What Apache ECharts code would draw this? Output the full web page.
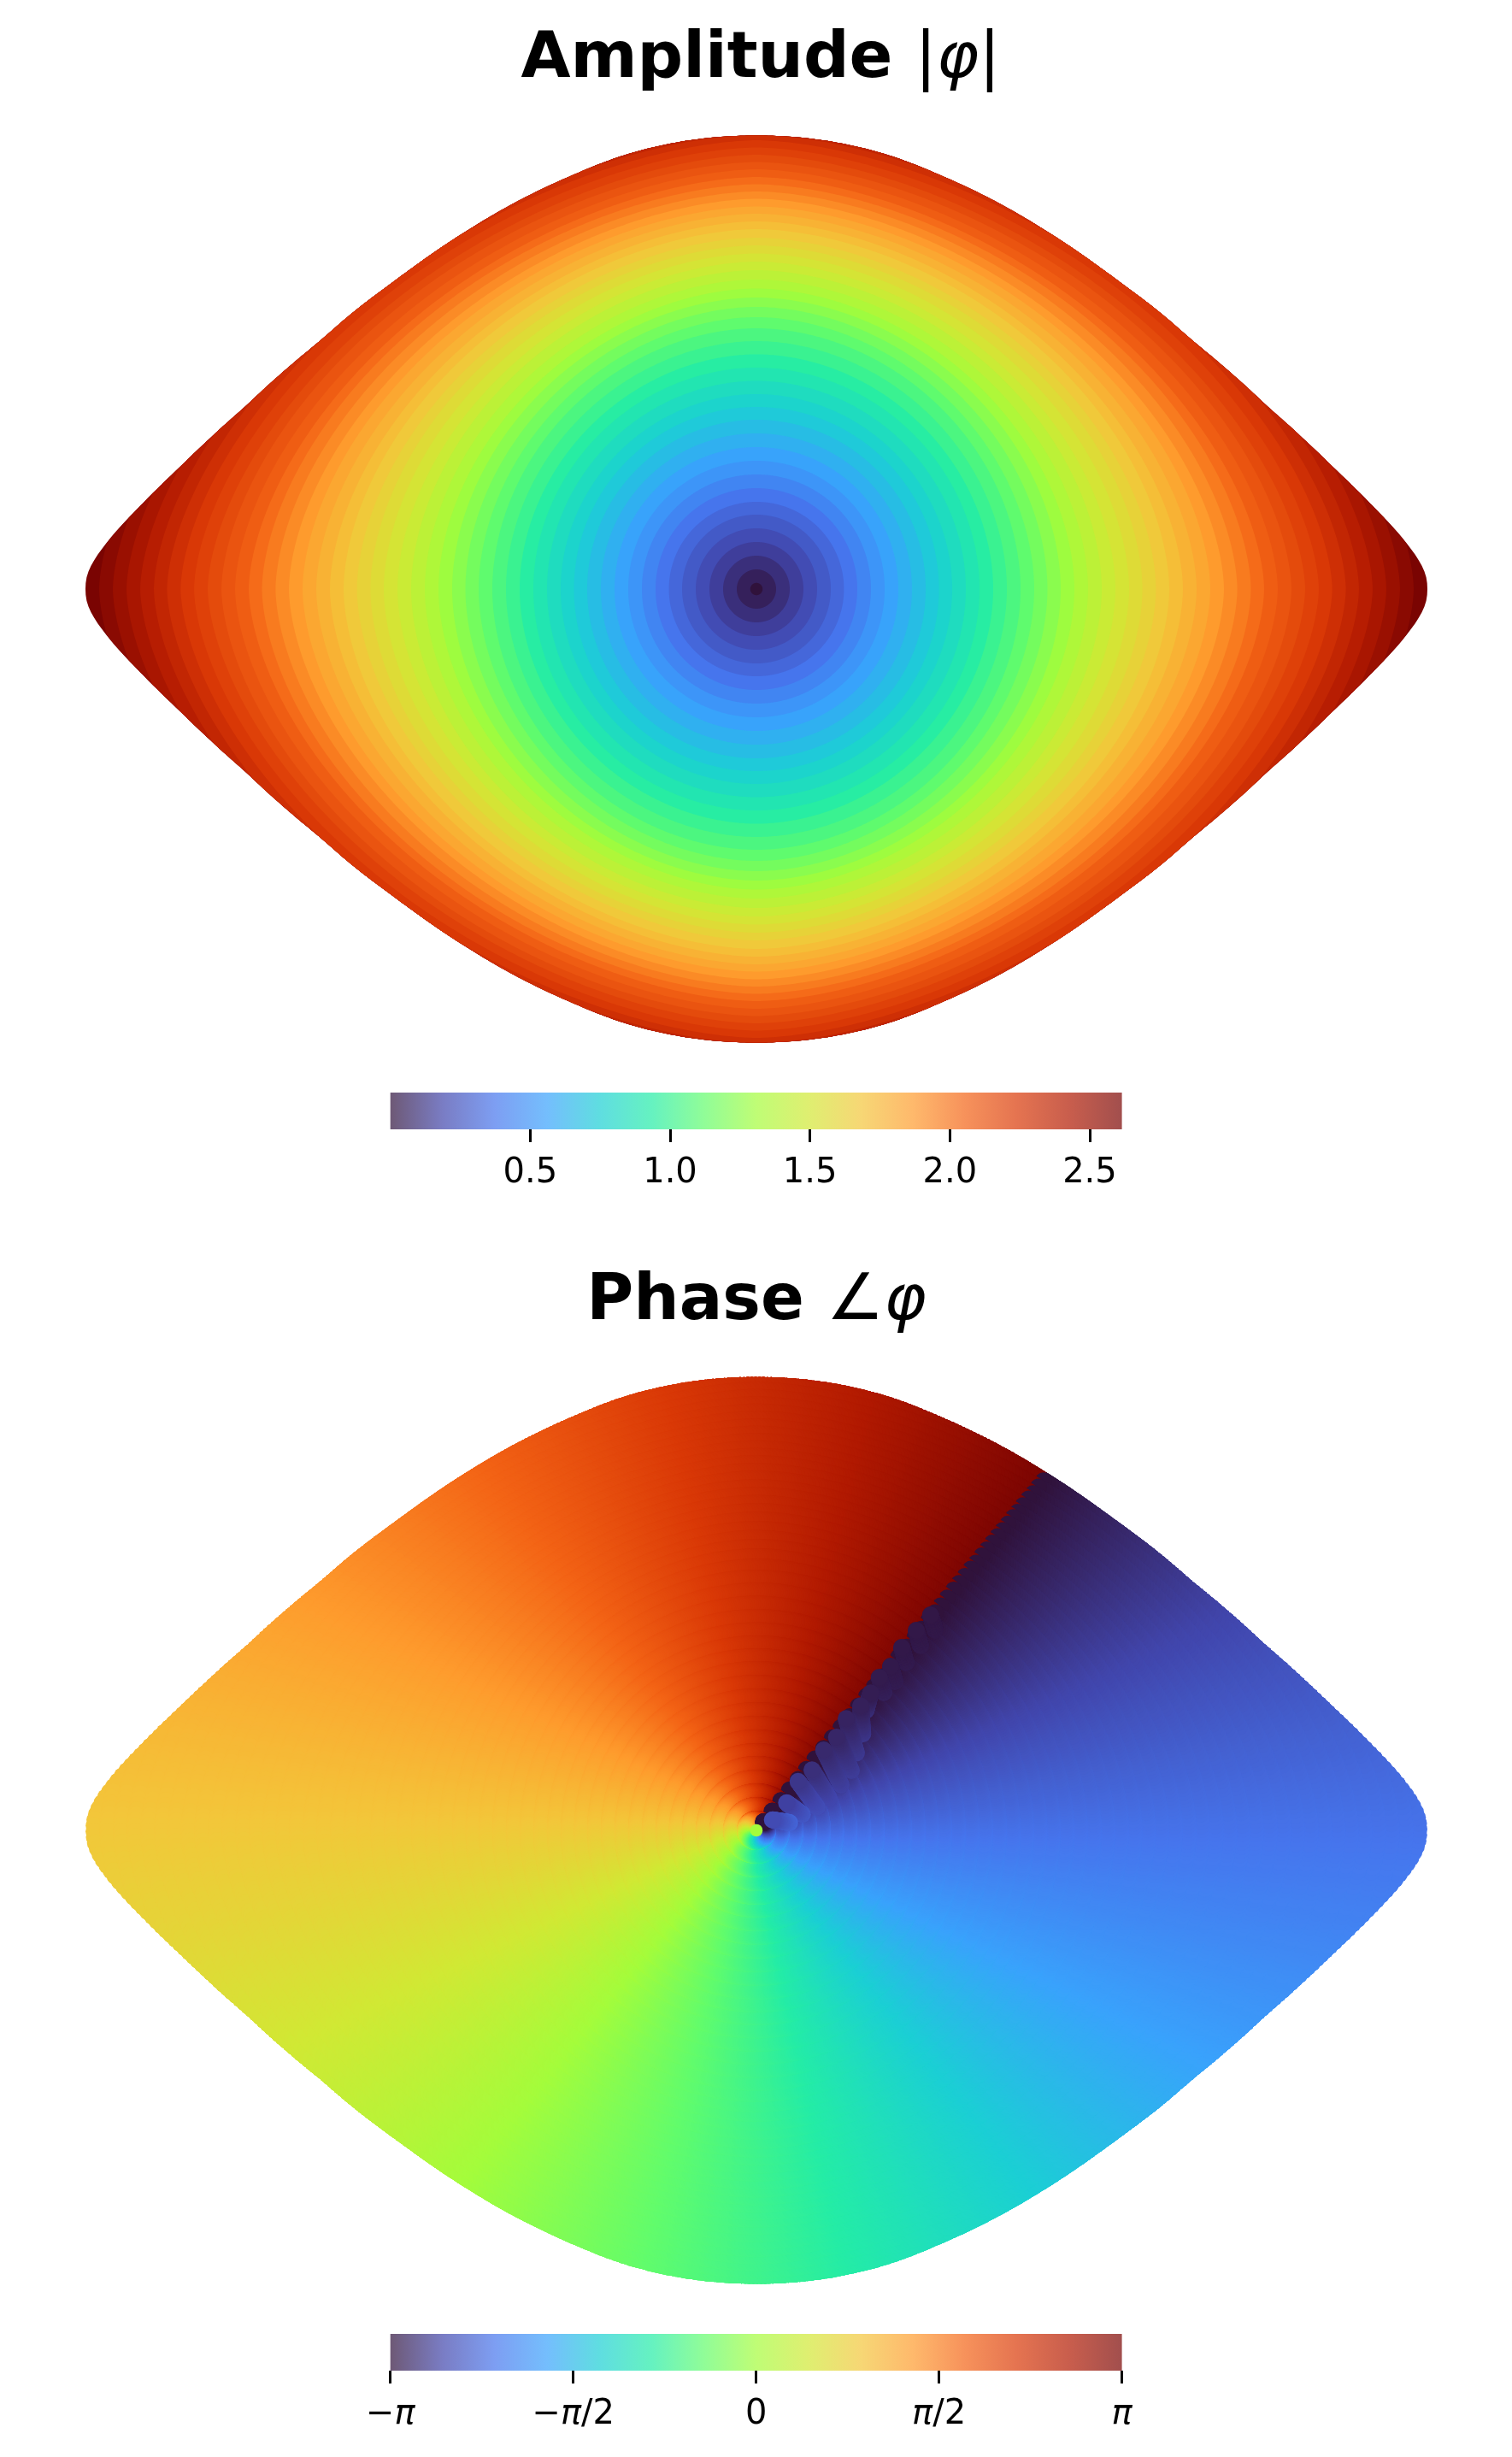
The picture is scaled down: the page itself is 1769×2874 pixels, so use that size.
<!DOCTYPE html>
<html>
<head>
<meta charset="utf-8">
<script src="https://cdn.jsdelivr.net/npm/echarts@6/dist/echarts.min.js"></script>
<style>html,body{margin:0;padding:0;background:#fff}#c{width:1769px;height:2874px}</style>
</head>
<body>
<div id="c"></div>
<script>
// ---- values ----
// turbo colour stops
const turboStops = ['#30123b','#4145ab','#4675ed','#39a2fc','#1bcfd4','#24eca6','#61fc6c','#a4fc3b','#d1e834','#f3c63a','#fe9b2d','#f36315','#d93806','#b11901','#7a0402'];
const ringAmp = [0,0.053,0.107,0.160,0.213,0.267,0.320,0.374,0.440,0.506,0.565,0.618,0.671,0.725,0.778,0.834,0.888,0.944,1.000,1.056,1.114,1.173,1.234,1.292,1.352,1.407,1.466,1.519,1.567,1.616,1.666,1.717,1.766,1.816,1.867,1.920,1.973,2.027,2.080,2.120,2.161,2.201,2.242,2.295,2.348,2.402,2.455,2.508,2.562,2.615];
// measured outer semi-axis of each ring along the horizontal
const ringSemiX = [7.2,23,39,55,71,87,102.4,118,134,150,166,182,198,213.5,229,245,261,277,293,309,325,340.5,356,372,388,404,420,436,451.6,467.4,483,499,515,531,547,562.6,578.5,594,610,626,642,658,673.7,689.6,705,721,737,753,769,785];
// measured outer semi-axis along the vertical (rings past 43 run off the outline)
const ringSemiY = [7.2,23,39,55,71,87,102,118,134,150,166,182,198,213,228,243.5,259,274.5,290,305,318,330,341,351.5,362,373,383,392.5,402,411,421,430,439,447.5,456.5,465,473.5,482,491,499.5,508,516.5,525,531.5,540,549,558,567,576,585];
// ring shape: y = semiY * (1 - |x/semiX|^ringPow)^ringBend (2 and .5 make a circle)
const ringPow = [2,2,2,2,2,2,2,2,2,2,2,2,2,1.99,1.97,1.96,1.95,1.93,1.92,1.91,1.89,1.88,1.87,1.85,1.84,1.83,1.81,1.8,1.79,1.78,1.77,1.76,1.75,1.74,1.73,1.73,1.72,1.71,1.7,1.7,1.69,1.69,1.68,1.68,1.68,1.68,1.68,1.68,1.68,1.68];
const ringBend = [.5,.5,.5,.5,.5,.5,.5,.5,.5,.5,.5,.5,.5,.5,.51,.51,.51,.52,.52,.52,.53,.53,.53,.54,.54,.54,.55,.55,.55,.56,.56,.57,.57,.57,.58,.58,.58,.59,.59,.59,.6,.6,.6,.6,.6,.6,.6,.6,.6,.6];
// outline of the lens, upper right quarter
const outlineDx = [785,783.3,777,765,745,725,691,665,630,590,523,487,420,353,287,220,153,87,0];
const outlineDy = [0,15,30,48,72,93,127,152,185,221,280,311,363,410,449.5,482,508,523.5,530.5];
// phase along rays, going clockwise from the cut
const rayDeg = [50.6,0,-45,-90,-135,-180,-225,-270,-309.4];
const rayPhase = [-3.1416,-2.258,-1.473,-0.688,0.097,0.883,1.668,2.453,3.1416];
// the dark lobes beside the cut: start and end of each lobe, with their phases
const lobeHeadX = [18.7,35.3,48.7,65,78.7,93.7,105,122,133.7,143.7,157,170,187,203.7];
const lobeHeadY = [12.3,32.3,57.3,70.7,94,109,130.7,145.7,160.7,179,192,214,234,252];
const lobeTailX = [38.8,53.7,70.8,84.8,98.9,111,117,124.3,128,149,162,175,192,209];
const lobeTailY = [9,18.7,27.3,37.8,53.3,70,90.6,112.7,140,161,174,196,216,234];
const lobeHeadPhase = [-2.639,-2.733,-2.827,-2.890,-2.941,-2.966,-2.991,-3.016,-3.047,-3.066,-3.079,-3.085,-3.091,-3.097];
const lobeTailPhase = [-2.388,-2.513,-2.607,-2.670,-2.733,-2.765,-2.796,-2.827,-2.890,-3.016,-3.047,-3.060,-3.072,-3.085];
// colour bar ticks
const ampTicks = [0.5,1.0,1.5,2.0,2.5];
const phaseTicks = [-Math.PI,-Math.PI/2,0,Math.PI/2,Math.PI];
const phaseTickLabels = ['\u2212{i|\u03c0}','\u2212{i|\u03c0}/2','0','{i|\u03c0}/2','{i|\u03c0}'];

// ---- geometry helpers ----
const RAD = Math.PI/180;
const markerR = 10, centreR = 7.3, raysPerRing = 720, lobeSteps = 24;
const olT = outlineDx.map((x,i)=>Math.atan2(outlineDy[i],x));
const olR = outlineDx.map((x,i)=>Math.hypot(x,outlineDy[i]));
const olM = olT.map((t,i)=>{
  if(i===0||i===olT.length-1) return 0;
  return (olR[i+1]-olR[i-1])/(olT[i+1]-olT[i-1]);
});
function outlineRadius(th){ // th any angle
  const c=Math.abs(Math.cos(th)), s=Math.abs(Math.sin(th));
  const t=Math.atan2(s,c);
  let i=0; while(i<olT.length-2 && t>olT[i+1]) i++;
  const h=olT[i+1]-olT[i], u=(t-olT[i])/h, u2=u*u, u3=u2*u;
  return (2*u3-3*u2+1)*olR[i]+(u3-2*u2+u)*h*olM[i]+(-2*u3+3*u2)*olR[i+1]+(u3-u2)*h*olM[i+1];
}
function ringRadius(k,th){
  const c=Math.abs(Math.cos(th)), s=Math.abs(Math.sin(th));
  const a=ringSemiX[k], b=ringSemiY[k], e=ringBend[k], p=ringPow[k];
  if(s<1e-6) return a;
  let lo=0, hi=Math.min(c>1e-6?a/c:b/s,b/s);
  for(let n=0;n<26;n++){
    const r=(lo+hi)/2, q=Math.max(0,1-Math.pow(r*c/a,p));
    if(r*s<b*Math.pow(q,e)) lo=r; else hi=r;
  }
  return (lo+hi)/2;
}
function phaseAt(deg){
  let i=0; while(i<rayDeg.length-2 && deg<rayDeg[i+1]) i++;
  return rayPhase[i]+(deg-rayDeg[i])/(rayDeg[i+1]-rayDeg[i])*(rayPhase[i+1]-rayPhase[i]);
}

// ---- amplitude rings, drawn rim first so inner rings cover outer ones ----
const ampRows = ringAmp.map((v,k)=>[k,v]).reverse();
const ringPts = ringAmp.map((v,k)=>{
  const p=[];
  for(let j=0;j<raysPerRing;j++){
    const th=j*2*Math.PI/raysPerRing;
    const r=Math.min(ringRadius(k,th),outlineRadius(th));
    p.push([r*Math.cos(th),r*Math.sin(th)]);
  }
  return p;
});

// ---- phase points: same rings, swept from the top of the range down to -pi ----
const phasePts = [];
for(let k=ringAmp.length-1;k>=1;k--){
  for(let j=raysPerRing-1;j>=0;j--){
    const deg=rayDeg[0]-j*360/raysPerRing, th=deg*RAD;
    const r=Math.max(0,Math.min(ringRadius(k,th),outlineRadius(th))-markerR);
    phasePts.push([r*Math.cos(th),r*Math.sin(th),phaseAt(deg)]);
  }
}
for(let m=lobeHeadX.length-1;m>=0;m--){
  for(let s=lobeSteps;s>=0;s--){
    const u=s/lobeSteps;
    phasePts.push([
      lobeHeadX[m]+u*(lobeTailX[m]-lobeHeadX[m]),
      lobeHeadY[m]+u*(lobeTailY[m]-lobeHeadY[m]),
      lobeHeadPhase[m]+u*(lobeTailPhase[m]-lobeHeadPhase[m])
    ]);
  }
}
phasePts.push([0,0,0]);
const centreIndex = phasePts.length-1;

const chart = echarts.init(document.getElementById('c'),null,{renderer:'canvas'});

function barGradient(alpha){
  return new echarts.graphic.LinearGradient(0,0,1,0,turboStops.map((c,i)=>({
    offset:i/(turboStops.length-1),
    color:echarts.color.modifyAlpha(c,alpha)
  })));
}
function barSeries(axisIdx,lo,hi){
  return {type:'custom',xAxisIndex:axisIdx,yAxisIndex:axisIdx,silent:true,clip:false,animation:false,
    data:[[lo,hi]],
    renderItem(params,api){
      const a=api.coord([api.value(0),0]), b=api.coord([api.value(1),1]);
      return {type:'rect',shape:{x:a[0],y:b[1],width:b[0]-a[0],height:a[1]-b[1]},style:{fill:barGradient(0.7)}};
    }};
}
const F='"DejaVu Sans"';
const titleRich={
  b:{fontFamily:F,fontWeight:'bold',fontSize:75,color:'#000'},
  m:{fontFamily:F,fontWeight:'normal',fontSize:75,color:'#000'},
  i:{fontFamily:F,fontStyle:'italic',fontWeight:'normal',fontSize:75,color:'#000'}
};
function hiddenAxis(i,lo,hi){return {gridIndex:i,type:'value',min:lo,max:hi,show:false};}
function barX(i,lo,hi,ticks,fmt){
  return {gridIndex:i,type:'value',min:lo,max:hi,position:'bottom',
    axisLine:{show:false},splitLine:{show:false},
    axisTick:{show:true,length:15,lineStyle:{color:'#000',width:3},customValues:ticks},
    axisLabel:{show:true,margin:32,color:'#000',fontFamily:F,fontSize:40,customValues:ticks,formatter:fmt,hideOverlap:false,
      rich:{i:{fontFamily:F,fontStyle:'italic',fontSize:40,color:'#000'}}}};
}

chart.setOption({
  animation:false,
  backgroundColor:'#fff',
  title:[
    {text:'{b|Amplitude} {m||}{i|\u03c6}{m||}',left:885,top:28,textAlign:'center',textStyle:{rich:titleRich,fontFamily:F,fontSize:75,fontWeight:'bold',color:'#000'}},
    {text:'{b|Phase} {m|\u2220}{i|\u03c6}',left:880,top:1481,textAlign:'center',textStyle:{rich:titleRich,fontFamily:F,fontSize:75,fontWeight:'bold',color:'#000'}}
  ],
  grid:[
    {left:85,top:139,width:1600,height:1100},
    {left:85,top:1591,width:1600,height:1100},
    {left:456.7,top:1278,width:855.9,height:43},
    {left:456.7,top:2730,width:855.9,height:43}
  ],
  xAxis:[
    hiddenAxis(0,-800,800),hiddenAxis(1,-800,800),
    barX(2,0,2.615,ampTicks,v=>v.toFixed(1)),
    barX(3,-Math.PI,Math.PI,phaseTicks,v=>phaseTickLabels[Math.round(v/(Math.PI/2))+2])
  ],
  yAxis:[
    hiddenAxis(0,-550,550),hiddenAxis(1,-550,550),
    hiddenAxis(2,0,1),hiddenAxis(3,0,1)
  ],
  visualMap:[
    {show:false,seriesIndex:0,dimension:1,min:0,max:2.615,inRange:{color:turboStops}},
    {show:false,seriesIndex:1,dimension:2,min:-Math.PI,max:Math.PI,inRange:{color:turboStops}}
  ],
  series:[
    {type:'custom',xAxisIndex:0,yAxisIndex:0,silent:true,clip:false,animation:false,
      data:ampRows,
      renderItem(params,api){
        const k=api.value(0);
        return {type:'polygon',shape:{points:ringPts[k].map(p=>api.coord(p))},style:{fill:api.visual('color')}};
      }},
    {type:'scatter',xAxisIndex:1,yAxisIndex:1,silent:true,animation:false,progressive:0,large:false,
      symbol:'circle',
      symbolSize:(v,params)=>params.dataIndex===centreIndex?centreR*2:markerR*2,
      itemStyle:{opacity:1,borderWidth:0},
      encode:{x:0,y:1},data:phasePts},
    barSeries(2,0,2.615),
    barSeries(3,-Math.PI,Math.PI)
  ]
});
</script>
</body>
</html>
